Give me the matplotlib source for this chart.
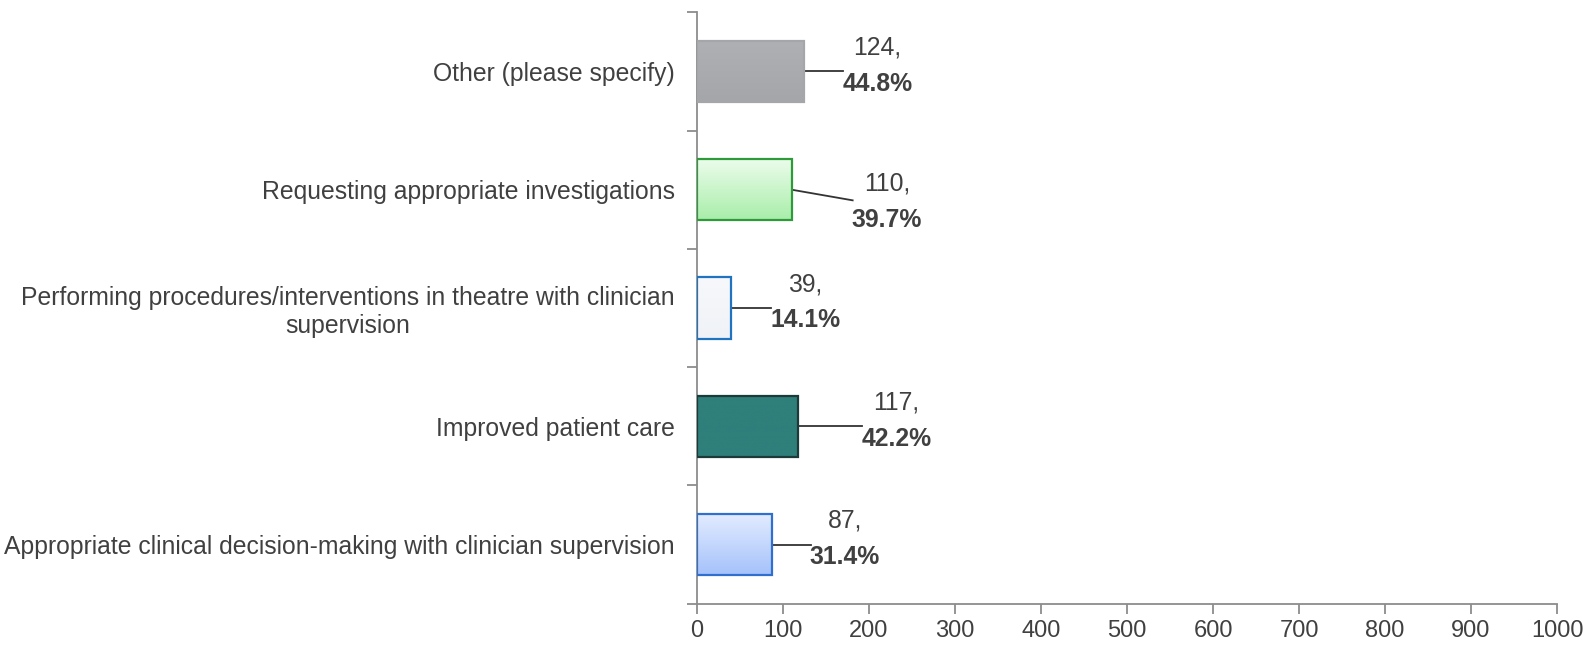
import matplotlib
matplotlib.use("Agg")
import matplotlib.pyplot as plt
import numpy as np
from matplotlib.colors import LinearSegmentedColormap

# bottom to top, as drawn
categories = [
    "Appropriate clinical decision-making with clinician supervision",
    "Improved patient care",
    "Performing procedures/interventions in theatre with clinician\nsupervision",
    "Requesting appropriate investigations",
    "Other (please specify)",
]
counts = [87, 117, 39, 110, 124]
percents = ["31.4%", "42.2%", "14.1%", "39.7%", "44.8%"]
x_ticks = [0, 100, 200, 300, 400, 500, 600, 700, 800, 900, 1000]

# styling per bar: (top colour, bottom colour, edge colour)
bar_styles = [
    ("#e2ecff", "#a6c2fb", "#2f6fd0"),
    ("#2f7f7b", "#2f7f7b", "#1c3a38"),
    ("#f7f8fb", "#eff2f7", "#1f73c0"),
    ("#ecfcec", "#a9eeaa", "#2e9a3a"),
    ("#aeb0b3", "#a4a6a9", "#a4a6a9"),
]
# label placement: x offset (data units), leader end shift and text shift (category units)
label_dx = [85, 115, 87, 111, 86]
line_dy = [0, 0, 0, -0.09, 0]
text_dy = [0, 0, 0, -0.15, 0]

TEXT = "#404040"
AXIS = "#8c8c8c"
FS = 17.8

plt.rcParams["font.family"] = ["Liberation Sans", "DejaVu Sans"]

fig = plt.figure(figsize=(15.83, 6.45), dpi=100)
ax = fig.add_axes([0.4403, 0.064, 0.5433, 0.917])

y = np.arange(len(categories))
bar_h = 0.52
bars = ax.barh(y, counts, height=bar_h, color="none", edgecolor="none", zorder=2)

for bar, (top, bot, edge) in zip(bars, bar_styles):
    x0, y0 = bar.get_x(), bar.get_y()
    w, h = bar.get_width(), bar.get_height()
    cmap = LinearSegmentedColormap.from_list("g", [bot, top])
    grad = np.linspace(0, 1, 64).reshape(-1, 1)
    im = ax.imshow(grad, cmap=cmap, aspect="auto", origin="lower",
                   extent=(x0, x0 + w, y0, y0 + h), zorder=2)
    im.set_clip_path(bar)
    ax.add_patch(plt.Rectangle((x0, y0), w, h, fill=False, edgecolor=edge,
                               linewidth=1.6, zorder=3))

for yi, c, p, dx, ldy, tdy in zip(y, counts, percents, label_dx, line_dy, text_dy):
    tx = c + dx
    ax.plot([c, tx - 40], [yi, yi + ldy], color="#333333", linewidth=1.3, zorder=1)
    ty = yi + tdy
    ax.annotate(f"{c},", (tx, ty), xytext=(0, 17), textcoords="offset points",
                ha="center", va="center", fontsize=FS, color=TEXT)
    ax.annotate(p, (tx, ty), xytext=(0, -9), textcoords="offset points",
                ha="center", va="center", fontsize=FS, color=TEXT, fontweight="bold")

ax.set_xlim(0, 1000)
ax.set_ylim(-0.5, len(categories) - 0.5)
ax.set_xticks(x_ticks)
ax.set_xticklabels([str(t) for t in x_ticks], fontsize=17, color=TEXT)

ax.set_yticks(np.arange(-0.5, len(categories), 1.0))
ax.set_yticklabels([])
ax.set_yticks(y, minor=True)
ax.set_yticklabels(categories, minor=True, fontsize=FS, color=TEXT,
                   multialignment="center")
ax.tick_params(axis="y", which="minor", length=0, pad=16)
ax.tick_params(axis="y", which="major", length=7, color=AXIS, width=1.3)
ax.tick_params(axis="x", length=7, color=AXIS, width=1.3, pad=5)

for side in ["top", "right"]:
    ax.spines[side].set_visible(False)
for side in ["left", "bottom"]:
    ax.spines[side].set_color(AXIS)
    ax.spines[side].set_linewidth(1.3)

fig.savefig("out.png", dpi=100, facecolor="white")
